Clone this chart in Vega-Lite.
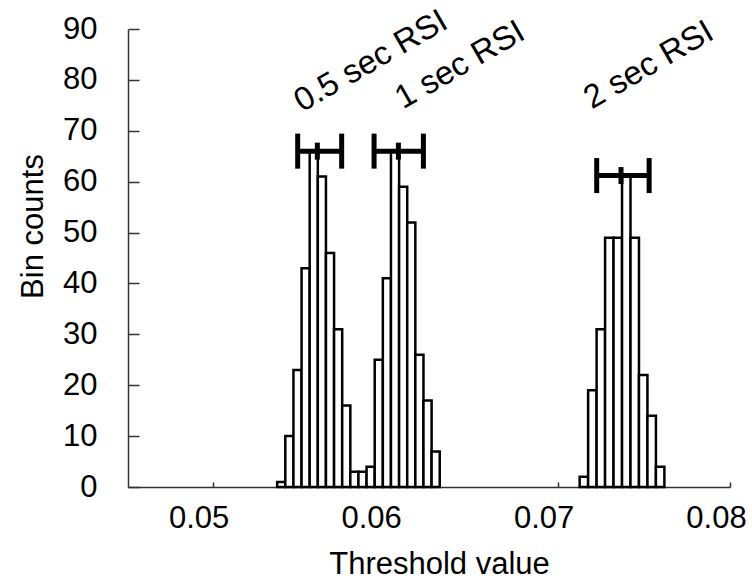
{
  "$schema": "https://vega.github.io/schema/vega-lite/v6.json",
  "width": 602,
  "height": 458,
  "autosize": {"type": "none"},
  "padding": {"left": 128, "top": 29, "right": 22, "bottom": 100},
  "background": "white",
  "config": {
    "view": {"stroke": null},
    "font": "Liberation Sans",
    "axis": {
      "grid": false,
      "domainColor": "#333333",
      "domainWidth": 1.5,
      "tickColor": "#333333",
      "tickWidth": 1.5,
      "labelFont": "Liberation Sans",
      "labelFontSize": 31,
      "labelColor": "black",
      "titleFont": "Liberation Sans",
      "titleFontSize": 31,
      "titleFontWeight": "normal",
      "titleColor": "black"
    }
  },
  "datasets": {
    "bars": [
      {"start": 0.053741, "end": 0.054212, "count": 1},
      {"start": 0.054212, "end": 0.054684, "count": 10},
      {"start": 0.054684, "end": 0.055155, "count": 23},
      {"start": 0.055155, "end": 0.055626, "count": 43},
      {"start": 0.055626, "end": 0.056098, "count": 66},
      {"start": 0.056098, "end": 0.056569, "count": 61},
      {"start": 0.056569, "end": 0.057040, "count": 46},
      {"start": 0.057040, "end": 0.057511, "count": 31},
      {"start": 0.057511, "end": 0.057983, "count": 16},
      {"start": 0.057983, "end": 0.058454, "count": 3},
      {"start": 0.058454, "end": 0.058925, "count": 3},
      {"start": 0.058925, "end": 0.059397, "count": 4},
      {"start": 0.059397, "end": 0.059868, "count": 25},
      {"start": 0.059868, "end": 0.060339, "count": 41},
      {"start": 0.060339, "end": 0.060811, "count": 66},
      {"start": 0.060811, "end": 0.061282, "count": 59},
      {"start": 0.061282, "end": 0.061753, "count": 52},
      {"start": 0.061753, "end": 0.062224, "count": 26},
      {"start": 0.062224, "end": 0.062696, "count": 17},
      {"start": 0.062696, "end": 0.063167, "count": 7},
      {"start": 0.071282, "end": 0.071773, "count": 2},
      {"start": 0.071773, "end": 0.072265, "count": 19},
      {"start": 0.072265, "end": 0.072756, "count": 31},
      {"start": 0.072756, "end": 0.073247, "count": 49},
      {"start": 0.073247, "end": 0.073739, "count": 49},
      {"start": 0.073739, "end": 0.074230, "count": 61},
      {"start": 0.074230, "end": 0.074721, "count": 49},
      {"start": 0.074721, "end": 0.075212, "count": 22},
      {"start": 0.075212, "end": 0.075704, "count": 14},
      {"start": 0.075704, "end": 0.076195, "count": 4}
    ],
    "errs": [
      {"label": "0.5 sec RSI", "lo": 0.05493, "mid": 0.05607, "hi": 0.05748, "y": 66.0, "tx": 0.05518, "ty": 73.6},
      {"label": "1 sec RSI", "lo": 0.05936, "mid": 0.06077, "hi": 0.06222, "y": 66.0, "tx": 0.06104, "ty": 74.2},
      {"label": "2 sec RSI", "lo": 0.07227, "mid": 0.07368, "hi": 0.07531, "y": 61.2, "tx": 0.07198, "ty": 74.2}
    ]
  },
  "layer": [
    {
      "data": {"name": "bars"},
      "mark": {"type": "rect", "fill": "white", "stroke": "black", "strokeWidth": 2.5},
      "encoding": {
        "x": {
          "field": "start", "type": "quantitative",
          "scale": {"domain": [0.04509, 0.08], "nice": false, "zero": false},
          "axis": {
            "title": "Threshold value",
            "values": [0.05, 0.06, 0.07, 0.08],
            "format": ".2f",
            "tickSize": -5,
            "labelPadding": 21,
            "labelOffset": -14,
            "labelFlush": false,
            "labelOverlap": false,
            "titleX": 311,
            "titleY": 86,
            "titleAlign": "center",
            "titleBaseline": "alphabetic"
          }
        },
        "x2": {"field": "end"},
        "y": {
          "field": "count", "type": "quantitative",
          "scale": {"domain": [0, 90], "nice": false},
          "axis": {
            "title": "Bin counts",
            "values": [0, 10, 20, 30, 40, 50, 60, 70, 80, 90],
            "tickSize": -11,
            "labelPadding": 42,
            "labelFlush": false,
            "labelOverlap": false,
            "titleX": -86,
            "titleY": 197,
            "titleAngle": -90,
            "titleAlign": "center",
            "titleBaseline": "alphabetic"
          }
        },
        "y2": {"datum": 0}
      }
    },
    {
      "data": {"name": "errs"},
      "mark": {"type": "rule", "color": "black", "strokeWidth": 5},
      "encoding": {
        "x": {"field": "lo", "type": "quantitative"},
        "x2": {"field": "hi"},
        "y": {"field": "y", "type": "quantitative"}
      }
    },
    {
      "data": {"name": "errs"},
      "mark": {"type": "tick", "color": "black", "orient": "vertical", "size": 35, "thickness": 5, "opacity": 1},
      "encoding": {
        "x": {"field": "lo", "type": "quantitative"},
        "y": {"field": "y", "type": "quantitative"}
      }
    },
    {
      "data": {"name": "errs"},
      "mark": {"type": "tick", "color": "black", "orient": "vertical", "size": 35, "thickness": 5, "opacity": 1},
      "encoding": {
        "x": {"field": "hi", "type": "quantitative"},
        "y": {"field": "y", "type": "quantitative"}
      }
    },
    {
      "data": {"name": "errs"},
      "mark": {"type": "tick", "color": "black", "orient": "vertical", "size": 17, "thickness": 5, "opacity": 1},
      "encoding": {
        "x": {"field": "mid", "type": "quantitative"},
        "y": {"field": "y", "type": "quantitative"}
      }
    },
    {
      "data": {"name": "errs"},
      "mark": {"type": "text", "align": "left", "baseline": "alphabetic", "angle": 330, "fontSize": 33, "font": "Liberation Sans", "color": "black"},
      "encoding": {
        "x": {"field": "tx", "type": "quantitative"},
        "y": {"field": "ty", "type": "quantitative"},
        "text": {"field": "label"}
      }
    }
  ]
}
